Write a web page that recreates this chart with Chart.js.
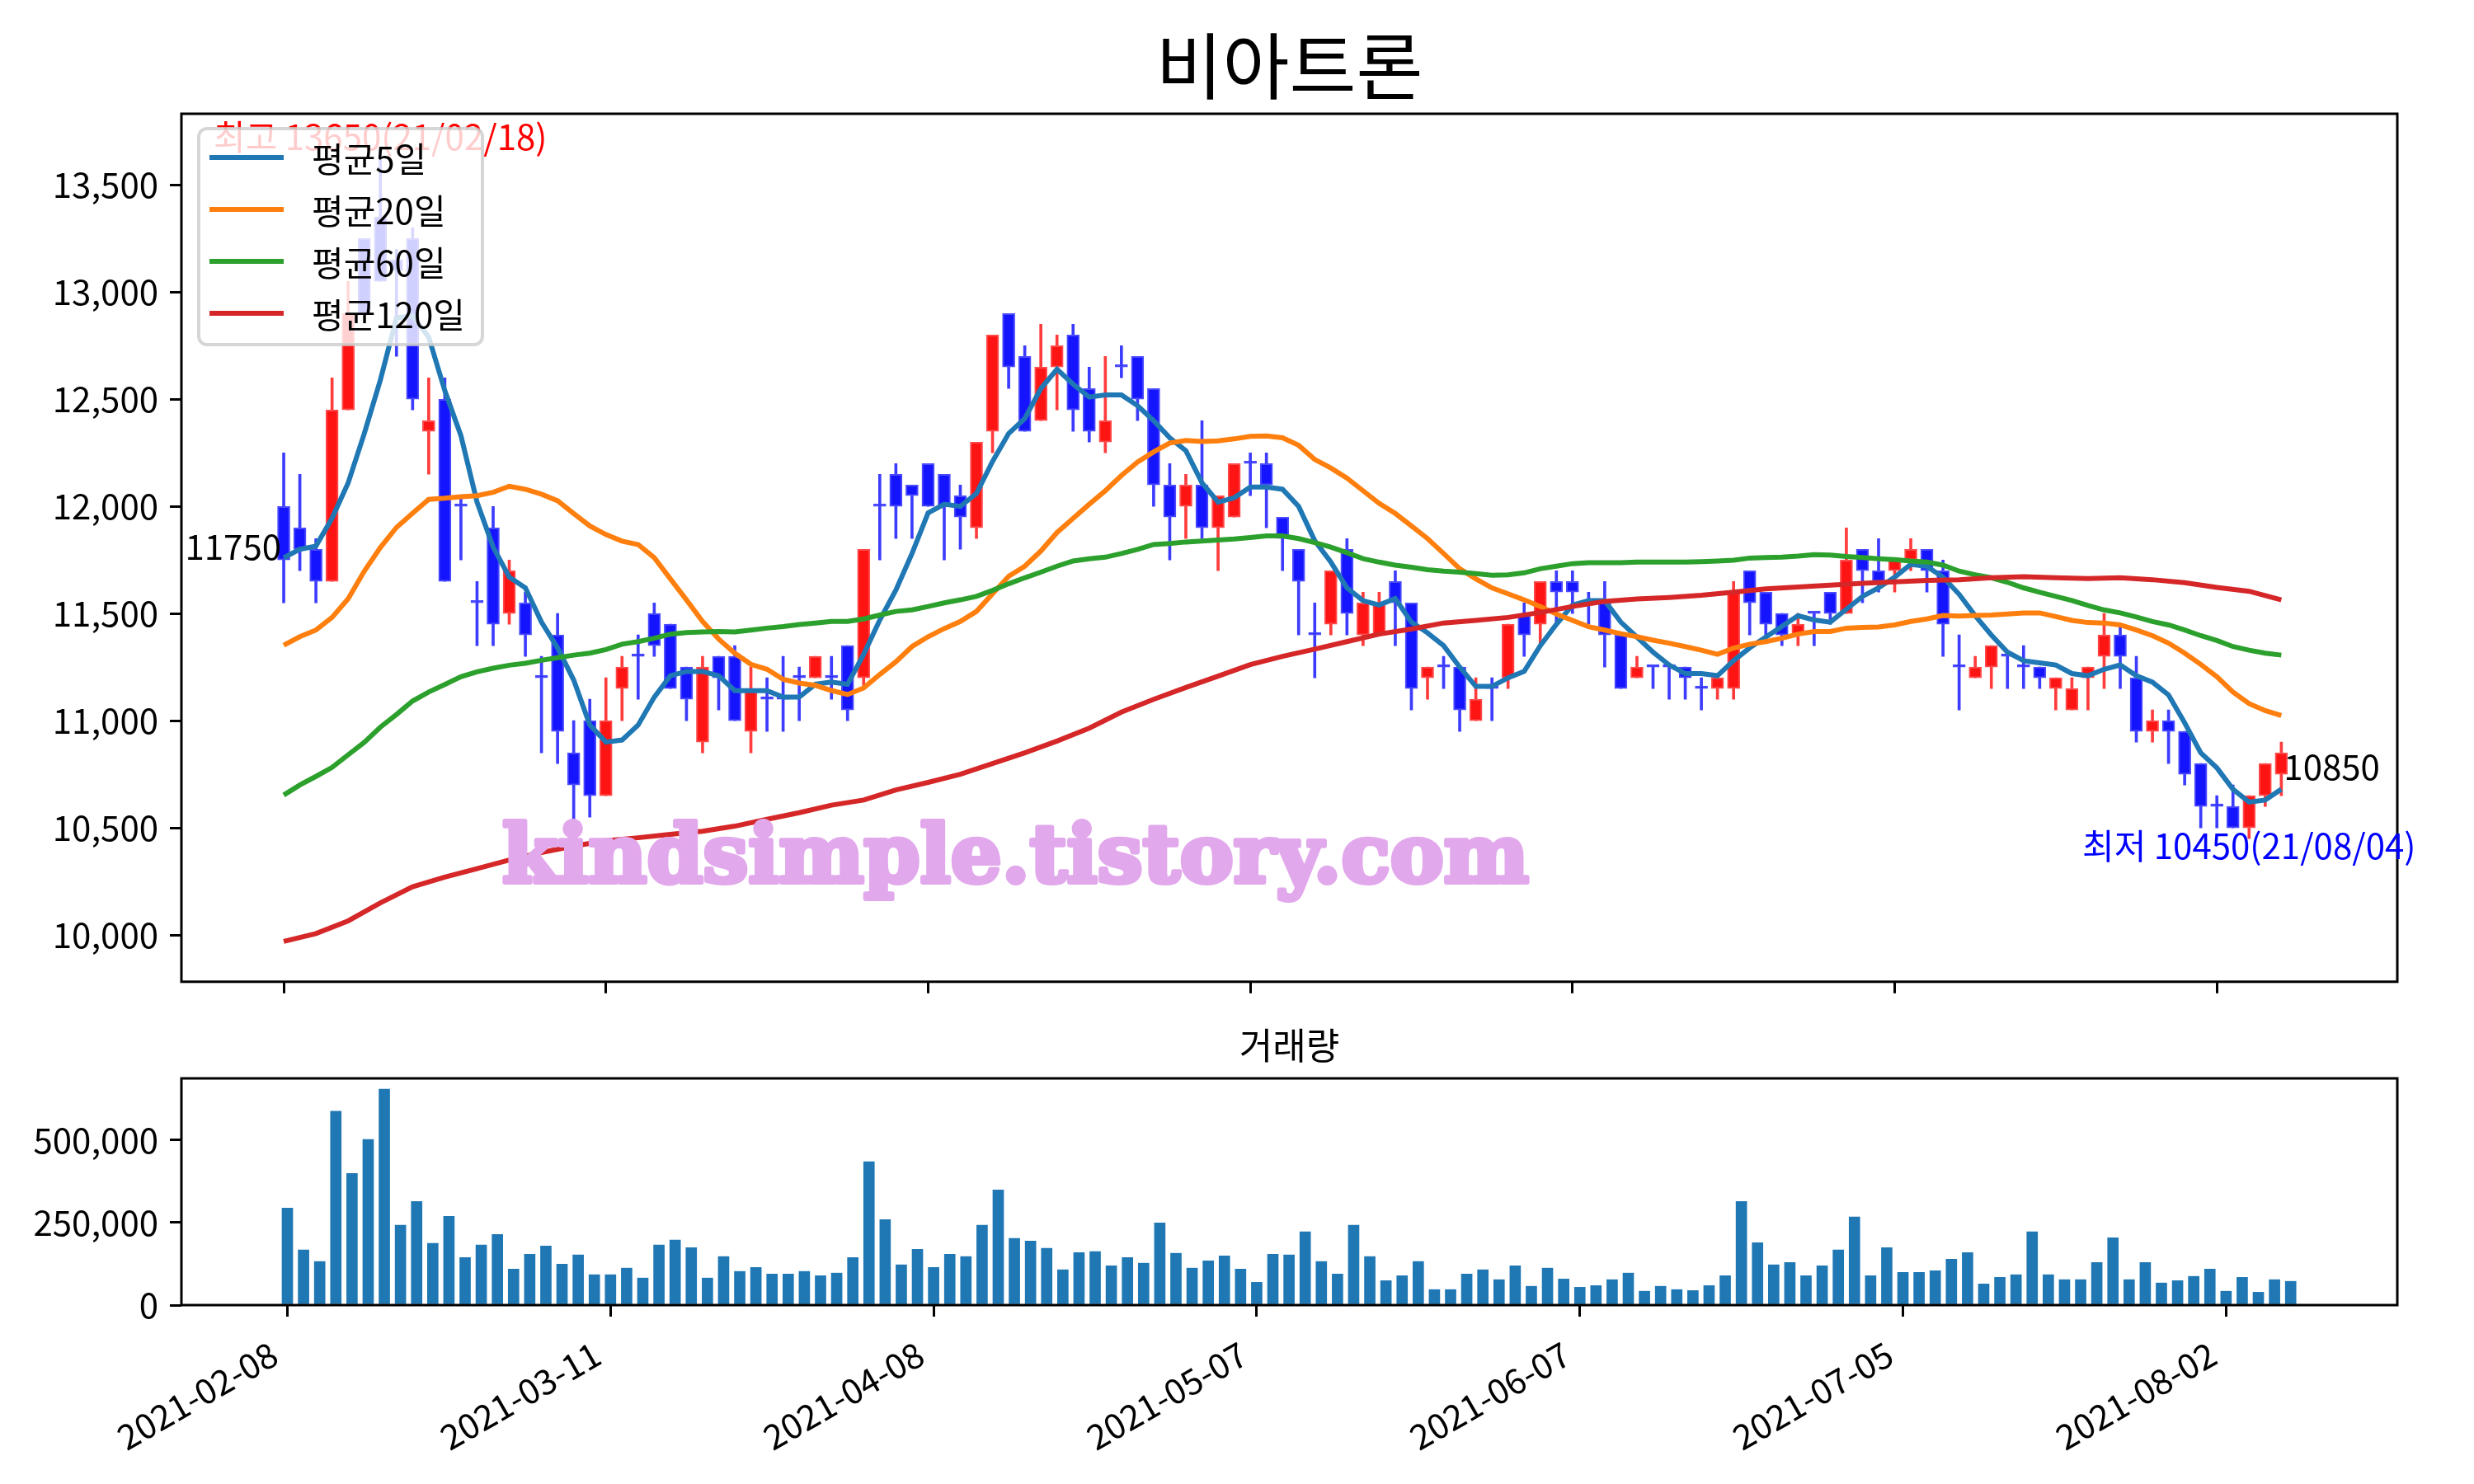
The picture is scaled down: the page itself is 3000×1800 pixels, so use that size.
<!DOCTYPE html>
<html>
<head>
<meta charset="utf-8">
<script src="https://cdn.jsdelivr.net/npm/chart.js@4.4.1/dist/chart.umd.min.js"></script>
<style>
  body { margin: 0; background: #fff; }
  #wrap { position: relative; width: 3000px; height: 1800px; }
  canvas { position: absolute; left: 0; }
</style>
</head>
<body>
<div id="wrap">
  <canvas id="price" width="3000" height="1230" style="top:0px"></canvas>
  <canvas id="volume" width="3000" height="570" style="top:1230px"></canvas>
</div>
<script>
// data (one entry per trading day, 2021-02-08 .. 2021-08-06)
const stockName = "비아트론";
const tickDays = [0, 20, 40, 60, 80, 100, 120];
const tickLabels = ["2021-02-08", "2021-03-11", "2021-04-08", "2021-05-07", "2021-06-07", "2021-07-05", "2021-08-02"];
const priceTicks = [10000, 10500, 11000, 11500, 12000, 12500, 13000, 13500];
const volumeTicks = [0, 250000, 500000];

const opens = [12000, 11900, 11800, 11650, 12450, 13250, 13350, 13150, 13250, 12350,
  12500, 12000, 11550, 11900, 11500, 11550, 11200, 11400, 10850, 11000,
  10650, 11150, 11300, 11500, 11450, 11250, 10900, 11300, 11300, 10950,
  11100, 11100, 11200, 11200, 11200, 11350, 11200, 12000, 12150, 12100,
  12200, 12150, 12050, 11900, 12350, 12900, 12700, 12400, 12650, 12800,
  12550, 12300, 12650, 12700, 12550, 12100, 12000, 12100, 11900, 11950,
  12200, 12200, 11950, 11800, 11400, 11450, 11800, 11400, 11400, 11650,
  11550, 11200, 11250, 11250, 11000, 11150, 11200, 11500, 11450, 11650,
  11650, 11550, 11550, 11400, 11200, 11250, 11250, 11250, 11150, 11150,
  11150, 11700, 11600, 11500, 11400, 11500, 11600, 11500, 11800, 11700,
  11700, 11750, 11800, 11700, 11250, 11200, 11250, 11300, 11250, 11250,
  11150, 11050, 11200, 11300, 11400, 11200, 10950, 11000, 10950, 10800,
  10600, 10600, 10500, 10650, 10750];
const highs = [12250, 12150, 11850, 12600, 13050, 13250, 13650, 13200, 13300, 12600,
  12600, 12050, 11650, 12000, 11750, 11600, 11300, 11500, 11000, 11100,
  11200, 11300, 11400, 11550, 11450, 11250, 11300, 11300, 11350, 11250,
  11200, 11300, 11250, 11300, 11300, 11350, 11800, 12150, 12200, 12100,
  12200, 12150, 12100, 12300, 12800, 12900, 12750, 12850, 12800, 12850,
  12650, 12700, 12750, 12700, 12550, 12200, 12150, 12400, 12050, 12200,
  12250, 12250, 11950, 11800, 11550, 11700, 11850, 11600, 11600, 11700,
  11550, 11250, 11300, 11250, 11200, 11200, 11450, 11550, 11650, 11700,
  11700, 11600, 11650, 11400, 11300, 11250, 11250, 11250, 11200, 11200,
  11650, 11700, 11600, 11500, 11500, 11500, 11600, 11900, 11800, 11850,
  11750, 11850, 11800, 11750, 11400, 11300, 11350, 11300, 11350, 11250,
  11200, 11200, 11250, 11500, 11450, 11300, 11050, 11050, 10950, 10800,
  10650, 10700, 10650, 10800, 10900];
const lows = [11550, 11700, 11550, 11650, 12450, 12900, 13050, 12700, 12450, 12150,
  11650, 11750, 11350, 11350, 11450, 11300, 10850, 10800, 10500, 10550,
  10650, 11000, 11100, 11300, 11150, 11000, 10850, 11050, 11000, 10850,
  10950, 10950, 11000, 11200, 11100, 11000, 11150, 11750, 11850, 11850,
  12000, 11750, 11800, 11850, 12250, 12550, 12350, 12400, 12450, 12350,
  12300, 12250, 12600, 12400, 12000, 11750, 11850, 11850, 11700, 11950,
  12050, 11900, 11700, 11400, 11200, 11400, 11400, 11350, 11400, 11350,
  11050, 11100, 11150, 10950, 11000, 11000, 11150, 11300, 11350, 11450,
  11500, 11450, 11250, 11150, 11200, 11150, 11100, 11100, 11050, 11100,
  11100, 11400, 11400, 11350, 11350, 11350, 11450, 11500, 11550, 11600,
  11600, 11700, 11600, 11300, 11050, 11200, 11150, 11150, 11150, 11150,
  11050, 11050, 11050, 11150, 11150, 10900, 10900, 10800, 10700, 10500,
  10500, 10500, 10450, 10600, 10650];
const closes = [11750, 11800, 11650, 12450, 12900, 12900, 13050, 13100, 12500, 12400,
  11650, 12000, 11550, 11450, 11700, 11400, 11200, 10950, 10700, 10650,
  11000, 11250, 11300, 11350, 11150, 11100, 11250, 11200, 11000, 11150,
  11100, 11100, 11200, 11300, 11200, 11050, 11800, 12000, 12000, 12050,
  12000, 12000, 11950, 12300, 12800, 12650, 12350, 12650, 12750, 12450,
  12350, 12400, 12650, 12500, 12100, 11950, 12100, 11900, 12050, 12200,
  12200, 12100, 11850, 11650, 11400, 11700, 11500, 11550, 11550, 11550,
  11150, 11250, 11250, 11050, 11100, 11150, 11450, 11400, 11650, 11600,
  11600, 11550, 11400, 11150, 11250, 11250, 11250, 11200, 11150, 11200,
  11600, 11550, 11450, 11400, 11450, 11500, 11500, 11750, 11700, 11650,
  11750, 11800, 11700, 11450, 11250, 11250, 11350, 11300, 11250, 11200,
  11200, 11150, 11250, 11400, 11300, 10950, 11000, 10950, 10750, 10600,
  10600, 10500, 10650, 10800, 10850];
const volumes = [294000, 167000, 132000, 587000, 399000, 502000, 654000, 242000, 314000, 187000,
  269000, 144000, 182000, 214000, 109000, 154000, 179000, 124000, 152000, 92000,
  92000, 112000, 82000, 182000, 197000, 174000, 82000, 147000, 102000, 114000,
  94000, 94000, 102000, 89000, 97000, 144000, 434000, 259000, 122000, 169000,
  114000, 154000, 147000, 242000, 349000, 202000, 194000, 172000, 107000, 159000,
  162000, 119000, 144000, 127000, 249000, 157000, 112000, 134000, 149000, 109000,
  69000, 154000, 152000, 222000, 132000, 94000, 242000, 147000, 74000, 89000,
  132000, 47000, 47000, 94000, 107000, 77000, 119000, 57000, 112000, 79000,
  54000, 59000, 77000, 97000, 42000, 57000, 47000, 44000, 59000, 89000,
  314000, 189000, 122000, 129000, 89000, 119000, 167000, 267000, 89000, 174000,
  99000, 99000, 104000, 139000, 159000, 64000, 84000, 92000, 222000, 92000,
  77000, 77000, 129000, 204000, 77000, 129000, 67000, 74000, 87000, 109000,
  42000, 84000, 39000, 77000, 72000];

// moving averages
const ma5 = [11760, 11800, 11815, 11945, 12110, 12340, 12590, 12880, 12890, 12790,
  12540, 12330, 12020, 11810, 11670, 11620, 11460, 11340, 11190, 10980,
  10900, 10910, 10980, 11110, 11210, 11230, 11230, 11210, 11140, 11140,
  11140, 11110, 11110, 11170, 11180, 11170, 11310, 11470, 11610, 11780,
  11970, 12010, 12000, 12060, 12210, 12340, 12410, 12550, 12640, 12570,
  12510, 12520, 12520, 12470, 12400, 12320, 12260, 12110, 12020, 12040,
  12090, 12090, 12080, 12000, 11840, 11740, 11620, 11560, 11540, 11570,
  11460, 11410, 11350, 11250, 11160, 11160, 11200, 11230, 11350, 11450,
  11540, 11560, 11560, 11460, 11390, 11320, 11260, 11220, 11220, 11210,
  11280, 11340, 11390, 11440, 11490, 11470, 11460, 11520, 11580, 11620,
  11670, 11730, 11720, 11670, 11590, 11490, 11400, 11320, 11280, 11270,
  11260, 11220, 11210, 11240, 11260, 11210, 11180, 11120, 10990, 10850,
  10780, 10680, 10620, 10630, 10680];
const ma20 = [11352, 11392, 11423, 11482, 11569, 11698, 11808, 11902, 11968, 12033,
  12038, 12045, 12050, 12066, 12094, 12080, 12057, 12026, 11967, 11909,
  11869, 11838, 11822, 11761, 11662, 11564, 11463, 11381, 11315, 11263,
  11240, 11193, 11176, 11165, 11141, 11122, 11153, 11216, 11275, 11346,
  11392, 11430, 11463, 11510, 11592, 11674, 11721, 11792, 11878, 11944,
  12010, 12073, 12144, 12207, 12254, 12296, 12308, 12303, 12306, 12315,
  12327, 12329, 12320, 12285, 12219, 12179, 12132, 12073, 12014, 11967,
  11909, 11850, 11780, 11709, 11662, 11620, 11592, 11564, 11533, 11498,
  11468, 11439, 11423, 11406, 11392, 11376, 11362, 11346, 11329, 11310,
  11339, 11357, 11369, 11385, 11404, 11416, 11416, 11432, 11435, 11437,
  11447, 11463, 11475, 11491, 11488, 11491, 11493, 11498, 11503, 11503,
  11486, 11468, 11458, 11456, 11447, 11423, 11397, 11362, 11315, 11263,
  11205, 11134, 11080, 11047, 11024];
const ma60 = [10653, 10700, 10740, 10782, 10841, 10899, 10970, 11029, 11092, 11134,
  11169, 11205, 11228, 11245, 11259, 11268, 11282, 11294, 11306, 11315,
  11332, 11357, 11369, 11385, 11404, 11411, 11414, 11416, 11414, 11423,
  11432, 11439, 11449, 11456, 11463, 11463, 11475, 11493, 11510, 11517,
  11533, 11550, 11564, 11580, 11608, 11639, 11667, 11693, 11721, 11745,
  11756, 11763, 11780, 11799, 11822, 11827, 11834, 11838, 11843, 11848,
  11855, 11862, 11862, 11850, 11831, 11810, 11784, 11756, 11740, 11726,
  11716, 11705, 11698, 11693, 11686, 11679, 11681, 11690, 11709, 11721,
  11733, 11737, 11737, 11737, 11740, 11740, 11740, 11740, 11742, 11745,
  11749, 11759, 11761, 11763, 11768, 11775, 11773, 11766, 11761, 11756,
  11752, 11745, 11740, 11726, 11698, 11681, 11667, 11646, 11620, 11599,
  11580, 11561, 11538, 11517, 11503, 11484, 11463, 11447, 11423, 11397,
  11374, 11346, 11329, 11315, 11306];
const ma120Days = [0, 2, 4, 6, 8, 10, 12, 14, 16, 18, 20, 22, 24, 26, 28, 30, 32, 34, 36, 38,
  40, 42, 44, 46, 48, 50, 52, 54, 56, 58, 60, 62, 64, 66, 68, 70, 72, 74, 76, 78,
  80, 82, 84, 86, 88, 90, 92, 94, 96, 98, 100, 102, 104, 106, 108, 110, 112, 114, 116, 118,
  120, 122, 124];
const ma120 = [9970, 10007, 10066, 10150, 10225, 10270, 10310, 10350, 10385, 10415,
  10440, 10454, 10470, 10484, 10508, 10540, 10571, 10606, 10630, 10677,
  10712, 10750, 10800, 10850, 10905, 10965, 11040, 11100, 11155, 11208,
  11262, 11300, 11334, 11369, 11404, 11428, 11456, 11468, 11482, 11505,
  11533, 11557, 11568, 11575, 11585, 11600, 11615, 11624, 11633, 11641,
  11648, 11655, 11658, 11667, 11672, 11667, 11663, 11667, 11658, 11644,
  11622, 11604, 11564];

const maColors = ["#1f77b4", "#ff7f0e", "#2ca02c", "#d62728"];
const maNames = ["평균5일", "평균20일", "평균60일", "평균120일"];

Chart.defaults.font.family = "'Noto Sans CJK KR', 'Noto Sans', sans-serif";
Chart.defaults.font.size = 42;
Chart.defaults.color = "#000";

const fontKR = (size) => `${size}px 'Noto Sans CJK KR', 'Noto Sans', sans-serif`;
const isUp = (i) => closes[i] > opens[i];
const days = closes.map((_, i) => i);

const ptsOf = (arr) => arr.map((v, i) => ({ x: i, y: v }));

// frame + texts drawn on top of the price panel
const priceOverlay = {
  id: "priceOverlay",
  afterDraw(chart) {
    const { ctx, chartArea: a, scales: { x, y } } = chart;
    ctx.save();
    ctx.strokeStyle = "#000";
    ctx.lineWidth = 3;
    ctx.strokeRect(a.left, a.top, a.right - a.left, a.bottom - a.top);

    ctx.fillStyle = "#000";
    ctx.font = fontKR(88);
    ctx.textAlign = "center";
    ctx.textBaseline = "middle";
    ctx.fillText(stockName, (a.left + a.right) / 2, 80);

    // high / low / first / last labels
    const hiIdx = highs.indexOf(Math.max(...highs));
    const loIdx = lows.indexOf(Math.min(...lows));
    ctx.font = fontKR(42);
    ctx.fillStyle = "#ff0000";
    ctx.textBaseline = "alphabetic";
    ctx.fillText(`최고 ${highs[hiIdx]}(21/02/18)`, x.getPixelForValue(hiIdx), y.getPixelForValue(highs[hiIdx]) - 3);
    ctx.fillStyle = "#0000ff";
    ctx.textBaseline = "middle";
    ctx.fillText(`최저 ${lows[loIdx]}(21/08/04)`, x.getPixelForValue(loIdx), y.getPixelForValue(lows[loIdx]) + 9);
    ctx.fillStyle = "#000";
    ctx.textBaseline = "alphabetic";
    ctx.textAlign = "right";
    ctx.fillText(String(closes[0]), x.getPixelForValue(0) - 3, y.getPixelForValue(closes[0]));
    const last = closes.length - 1;
    ctx.textAlign = "left";
    ctx.fillText(String(closes[last]), x.getPixelForValue(last) + 3, y.getPixelForValue(closes[last]) + 33);

    // legend box
    const lx = 241, ly = 156, lw = 344, lh = 262, r = 10;
    ctx.beginPath();
    ctx.moveTo(lx + r, ly);
    ctx.arcTo(lx + lw, ly, lx + lw, ly + lh, r);
    ctx.arcTo(lx + lw, ly + lh, lx, ly + lh, r);
    ctx.arcTo(lx, ly + lh, lx, ly, r);
    ctx.arcTo(lx, ly, lx + lw, ly, r);
    ctx.closePath();
    ctx.fillStyle = "rgba(255,255,255,0.8)";
    ctx.fill();
    ctx.strokeStyle = "rgba(204,204,204,0.8)";
    ctx.lineWidth = 4;
    ctx.stroke();
    maNames.forEach((name, k) => {
      const yy = 191 + k * 63;
      ctx.strokeStyle = maColors[k];
      ctx.lineWidth = 6;
      ctx.beginPath();
      ctx.moveTo(254, yy);
      ctx.lineTo(344, yy);
      ctx.stroke();
      ctx.fillStyle = "#000";
      ctx.font = fontKR(42);
      ctx.textAlign = "left";
      ctx.textBaseline = "middle";
      ctx.fillText(name, 378, yy + 2);
    });

    // watermark
    const mark = "kindsimple.tistory.com";
    ctx.font = "bold 100px 'DejaVu Serif'";
    const size = 100 * 1245 / ctx.measureText(mark).width;
    ctx.font = `bold ${size}px 'DejaVu Serif'`;
    ctx.fillStyle = "rgb(226,168,236)";
    ctx.strokeStyle = "rgb(226,168,236)";
    ctx.lineWidth = 6;
    ctx.lineJoin = "round";
    ctx.textAlign = "left";
    ctx.textBaseline = "alphabetic";
    ctx.strokeText(mark, 609, 1070);
    ctx.fillText(mark, 609, 1070);
    ctx.restore();
  }
};

const volumeOverlay = {
  id: "volumeOverlay",
  afterDraw(chart) {
    const { ctx, chartArea: a } = chart;
    ctx.save();
    ctx.strokeStyle = "#000";
    ctx.lineWidth = 3;
    ctx.strokeRect(a.left, a.top, a.right - a.left, a.bottom - a.top);
    ctx.fillStyle = "#000";
    ctx.font = fontKR(44);
    ctx.textAlign = "center";
    ctx.textBaseline = "middle";
    ctx.fillText("거래량", (a.left + a.right) / 2, 38);
    ctx.restore();
  }
};

const tickGrid = { display: true, drawOnChartArea: false, drawTicks: true, tickLength: 14, color: "#000", lineWidth: 3, offset: false };

new Chart(document.getElementById("price"), {
  type: "bar",
  data: {
    datasets: [
      { type: "line", label: maNames[3], data: ma120Days.map((d, j) => ({ x: d, y: ma120[j] })), borderColor: maColors[3], borderWidth: 6, pointRadius: 0, order: 0 },
      { type: "line", label: maNames[2], data: ptsOf(ma60), borderColor: maColors[2], borderWidth: 6, pointRadius: 0, order: 1 },
      { type: "line", label: maNames[1], data: ptsOf(ma20), borderColor: maColors[1], borderWidth: 6, pointRadius: 0, order: 2 },
      { type: "line", label: maNames[0], data: ptsOf(ma5), borderColor: maColors[0], borderWidth: 6, pointRadius: 0, order: 3 },
      {
        label: "body",
        data: days.map(i => ({ x: i, y: [opens[i], closes[i]] })),
        backgroundColor: days.map(i => isUp(i) ? "#ff1414" : "#1414ff"),
        borderColor: days.map(i => isUp(i) ? "#ff4a4a" : "#4a4aff"),
        borderWidth: 2,
        borderSkipped: false,
        barThickness: 15,
        minBarLength: 3,
        grouped: false,
        order: 4
      },
      {
        label: "wick",
        data: days.map(i => ({ x: i, y: [lows[i], highs[i]] })),
        backgroundColor: days.map(i => isUp(i) ? "#ff3c3c" : "#3c3cff"),
        barThickness: 3,
        grouped: false,
        order: 5
      }
    ]
  },
  options: {
    responsive: false,
    animation: false,
    devicePixelRatio: 1,
    layout: { padding: { top: 138, right: 93, left: 0, bottom: 0 } },
    plugins: { legend: { display: false }, tooltip: { enabled: false } },
    scales: {
      x: {
        type: "linear",
        min: -6.35,
        max: 131.2,
        offset: false,
        grid: tickGrid,
        border: { display: false },
        ticks: { display: false },
        afterBuildTicks: (s) => { s.ticks = tickDays.map(v => ({ value: v })); },
        afterFit: (s) => { s.height = 38; }
      },
      y: {
        min: 9782,
        max: 13832,
        grid: tickGrid,
        border: { display: false },
        ticks: { padding: 14, callback: (v) => v.toLocaleString("en-US") },
        afterBuildTicks: (s) => { s.ticks = priceTicks.map(v => ({ value: v })); },
        afterFit: (s) => { s.width = 220; }
      }
    }
  },
  plugins: [priceOverlay]
});

new Chart(document.getElementById("volume"), {
  type: "bar",
  data: {
    datasets: [{
      label: "거래량",
      data: volumes.map((v, i) => ({ x: i, y: v })),
      backgroundColor: "#1f77b4",
      barThickness: 13,
      grouped: false
    }]
  },
  options: {
    responsive: false,
    animation: false,
    devicePixelRatio: 1,
    layout: { padding: { top: 78, right: 93, left: 0, bottom: 0 } },
    plugins: { legend: { display: false }, tooltip: { enabled: false } },
    scales: {
      x: {
        type: "linear",
        min: -6.56,
        max: 130.6,
        offset: false,
        grid: tickGrid,
        border: { display: false },
        ticks: {
          padding: 20,
          labelOffset: -16,
          autoSkip: false,
          minRotation: 30,
          maxRotation: 30,
          callback: (v) => tickLabels[tickDays.indexOf(v)] ?? ""
        },
        afterBuildTicks: (s) => { s.ticks = tickDays.map(v => ({ value: v })); },
        afterFit: (s) => { s.height = 217; }
      },
      y: {
        min: 0,
        max: 686700,
        grid: tickGrid,
        border: { display: false },
        ticks: { padding: 14, callback: (v) => v.toLocaleString("en-US") },
        afterBuildTicks: (s) => { s.ticks = volumeTicks.map(v => ({ value: v })); },
        afterFit: (s) => { s.width = 220; }
      }
    }
  },
  plugins: [volumeOverlay]
});
</script>
</body>
</html>
